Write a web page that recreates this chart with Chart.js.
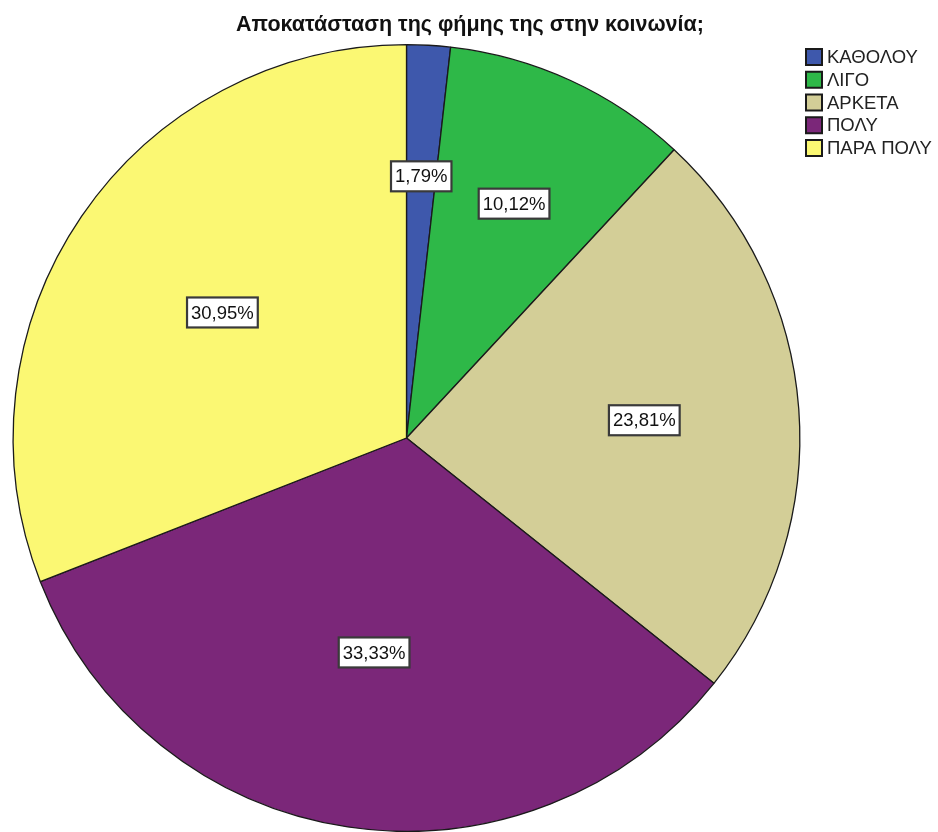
<!DOCTYPE html>
<html>
<head>
<meta charset="utf-8">
<script src="https://cdn.jsdelivr.net/npm/chart.js@4.4.0/dist/chart.umd.min.js"></script>
<style>
  html, body { margin: 0; padding: 0; background: #fff; }
  canvas { display: block; }
</style>
</head>
<body>
<canvas id="pie" width="938" height="832"></canvas>
<script>
const chartTitle = 'Αποκατάσταση της φήμης της στην κοινωνία;';
const categories = ['ΚΑΘΟΛΟΥ', 'ΛΙΓΟ', 'ΑΡΚΕΤΑ', 'ΠΟΛΥ', 'ΠΑΡΑ ΠΟΛΥ'];
const percents = [1.79, 10.12, 23.81, 33.33, 30.95];
const sliceColors = ['#3e58ac', '#2eb848', '#d3ce97', '#7b2779', '#fbf873'];

const fmt = v => v.toFixed(2).replace('.', ',') + '%';

// title + legend drawn by hand so the pie keeps its position
const decorations = {
  id: 'decorations',
  afterDraw(chart) {
    const ctx = chart.ctx;
    ctx.save();
    ctx.fillStyle = '#111';
    ctx.font = 'bold 21.5px "Liberation Sans", Arial, sans-serif';
    ctx.textAlign = 'center';
    ctx.textBaseline = 'alphabetic';
    ctx.fillText(chartTitle, chart.width / 2 + 1, 31);

    ctx.font = '18.5px "Liberation Sans", Arial, sans-serif';
    ctx.textAlign = 'left';
    ctx.textBaseline = 'middle';
    categories.forEach((name, i) => {
      const y = 49 + i * 22.75;
      ctx.fillStyle = sliceColors[i];
      ctx.fillRect(806, y, 16, 16);
      ctx.strokeStyle = '#1a1a1a';
      ctx.lineWidth = 2;
      ctx.strokeRect(806, y, 16, 16);
      ctx.fillStyle = '#222';
      ctx.fillText(name, 827, y + 9);
    });
    ctx.restore();
  }
};

// percentage boxes at the centroid of each slice
const sliceLabels = {
  id: 'sliceLabels',
  afterDatasetsDraw(chart) {
    const ctx = chart.ctx;
    const meta = chart.getDatasetMeta(0);
    ctx.save();
    ctx.font = '18.5px "Liberation Sans", Arial, sans-serif';
    ctx.textAlign = 'center';
    ctx.textBaseline = 'middle';
    meta.data.forEach((arc, i) => {
      const { x, y, startAngle, endAngle, outerRadius } = arc.getProps(['x', 'y', 'startAngle', 'endAngle', 'outerRadius'], true);
      const mid = (startAngle + endAngle) / 2;
      const half = (endAngle - startAngle) / 2;
      const d = half > 0.001 ? 2 * outerRadius * Math.sin(half) / (3 * half) : 2 * outerRadius / 3;
      const lx = x + Math.cos(mid) * d;
      const ly = y + Math.sin(mid) * d;
      const text = fmt(percents[i]);
      const w = ctx.measureText(text).width + 8;
      const h = 30;
      ctx.fillStyle = '#fff';
      ctx.fillRect(lx - w / 2, ly - h / 2, w, h);
      ctx.strokeStyle = '#3a3a3a';
      ctx.lineWidth = 2.2;
      ctx.strokeRect(lx - w / 2, ly - h / 2, w, h);
      ctx.fillStyle = '#111';
      ctx.fillText(text, lx, ly + 1);
    });
    ctx.restore();
  }
};

new Chart(document.getElementById('pie'), {
  type: 'pie',
  data: {
    labels: categories,
    datasets: [{
      data: percents,
      backgroundColor: sliceColors,
      borderColor: '#1a1a1a',
      borderWidth: 1.3
    }]
  },
  options: {
    responsive: false,
    animation: false,
    events: [],
    layout: { padding: { left: 12.5, right: 137.5, top: 44, bottom: 0 } },
    plugins: {
      legend: { display: false },
      title: { display: false },
      tooltip: { enabled: false }
    }
  },
  plugins: [sliceLabels, decorations]
});
</script>
</body>
</html>
